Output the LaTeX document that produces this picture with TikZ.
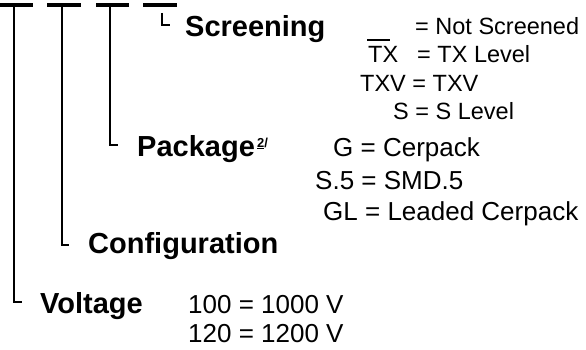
\documentclass[tikz,border=0pt]{standalone}
\usepackage{fontspec}
\setmainfont{Liberation Sans}
\usetikzlibrary{positioning}

\begin{document}
\begin{tikzpicture}[x=1pt, y=-1pt,
          bar/.style={line width=4pt},
          lead/.style={line width=2pt},
          tick/.style={line width=1.5pt},
          field/.style={anchor=base west, inner sep=0pt, font=\fontsize{29}{32}\selectfont\bfseries},
          code/.style={anchor=base west, inner sep=0pt, font=\fontsize{26}{29}\selectfont},
          scode/.style={code, font=\fontsize{23.5}{26}\selectfont}]
        \useasboundingbox (0,0) rectangle (586,350);
        % the four blanks of the part number
        \coordinate (b1a) at (0,5);   \coordinate (b1b) at (33,5);
        \coordinate (b2a) at (47,5);  \coordinate (b2b) at (81,5);
        \coordinate (b3a) at (96,5);  \coordinate (b3b) at (129,5);
        \coordinate (b4a) at (143,5); \coordinate (b4b) at (177,5);
        \draw[bar] (b1a) -- (b1b);
        \draw[bar] (b2a) -- (b2b);
        \draw[bar] (b3a) -- (b3b);
        \draw[bar] (b4a) -- (b4b);
        % field names
        \node[field] (scr) at (185,37) {Screening};
        \node[field] (pkg) at (137,157) {Package};
        \node[font=\fontsize{13}{14}\selectfont\bfseries, anchor=base west, inner sep=0pt]
              (note) at (257,147) {\underline{2}/};
        \node[field] (cfg) at (88,253) {Configuration};
        \node[field] (vlt) at (40,313) {Voltage};
        % leads from the blanks
        \coordinate (t1) at (14,7);   \coordinate (e1) at (22,302);
        \coordinate (t2) at (62,7);   \coordinate (e2) at (69,245);
        \coordinate (t3) at (110,7);  \coordinate (e3) at (118,145);
        \coordinate (t4) at (162,13); \coordinate (e4) at (170,25);
        \draw[lead] (t1) |- (e1);
        \draw[lead] (t2) |- (e2);
        \draw[lead] (t3) |- (e3);
        \draw[tick] (t4) |- (e4);
        % screening codes
        \coordinate (ns1) at (367,40); \coordinate (ns2) at (390,40);
        \draw[line width=2pt] (ns1) -- (ns2);
        \node[scode] (s1) at (415,35) {= Not Screened};
        \node[scode] (s2a) at (368,63) {TX};
        \node[scode] (s2) at (417,63) {= TX Level};
        \node[scode] (s3) at (360,92) {TXV = TXV};
        \node[scode] (s4) at (393,120) {S = S Level};
        % package codes
        \node[code] (p1) at (333,157) {G = Cerpack};
        \node[code] (p2) at (315,189) {S.5 = SMD.5};
        \node[code] (p3) at (323,220) {GL = Leaded Cerpack};
        % voltage codes
        \node[code] (v1) at (188,313) {100 = 1000 V};
        \node[code] (v2) at (188,342) {120 = 1200 V};
      \end{tikzpicture}
\end{document}
